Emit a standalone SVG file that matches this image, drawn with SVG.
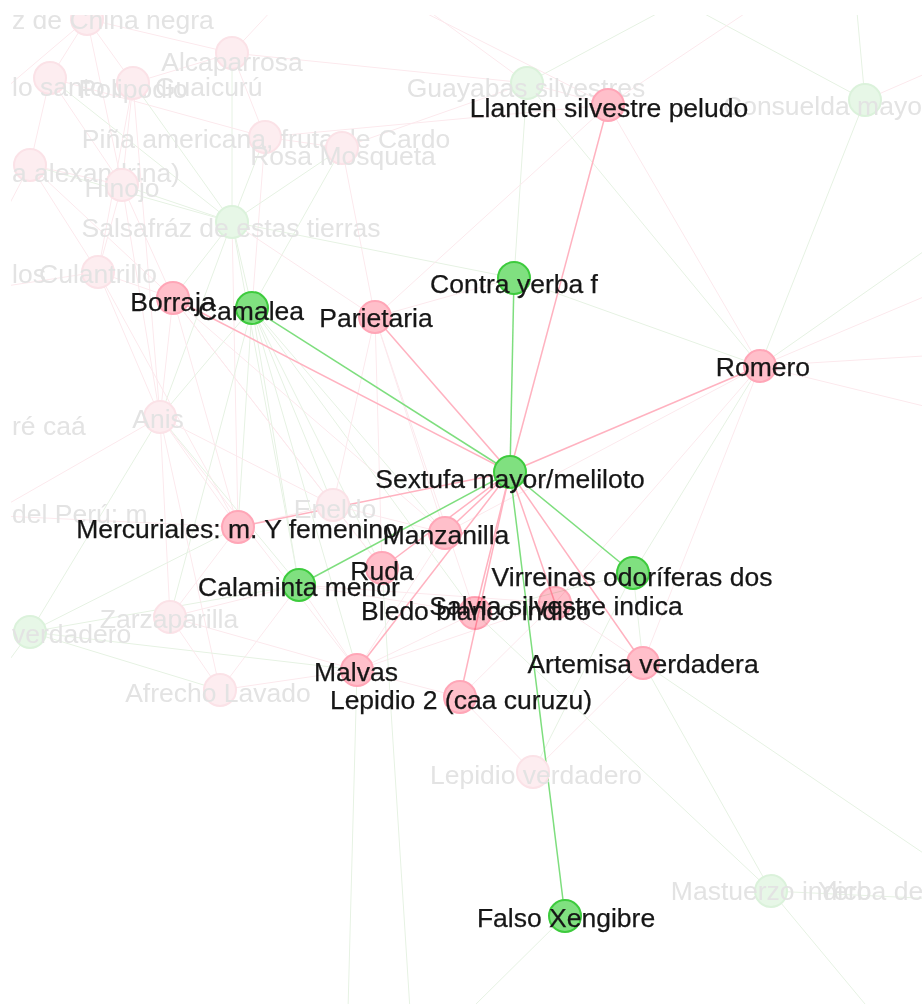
<svg xmlns="http://www.w3.org/2000/svg" width="922" height="1004" viewBox="0 0 922 1004">
  <defs>
    <clipPath id="view"><rect x="11" y="15" width="911" height="989"/></clipPath>
    <style>
      text { font-family: "Liberation Sans", Arial, Helvetica, sans-serif; font-size: 26.5px; text-anchor: middle; fill: #161616; stroke: #161616; stroke-width: 0.25; }
      text.dim { fill: #e3e3e3; stroke: none; }
      text.start { text-anchor: start; }
      circle { stroke-width: 2; }
      .hp { fill: #ffbfca; stroke: #ffa6b7; }
      .hg { fill: #80e080; stroke: #3dcb3d; }
      .mix { mix-blend-mode: multiply; }
      .dp { fill: #fdedf0; stroke: #fbe2e7; }
      .dg { fill: #e7f7e7; stroke: #dbf2db; }
      line { fill: none; }
      .ep { stroke: #ffb2c0; stroke-width: 1.5; }
      .eg { stroke: #7ede7e; stroke-width: 1.5; }
      .fp { stroke: #fce9ed; stroke-width: 1; }
      .fg { stroke: #e6f2e3; stroke-width: 1; }
    </style>
  </defs>
  <rect width="922" height="1004" fill="#ffffff"/>
  <g clip-path="url(#view)">
    <!-- connectors -->
    <g id="edges">
      <!-- background links -->
      <g id="edges-dim">
        <line class="fp" x1="87" y1="19" x2="133" y2="83"/>
        <line class="fp" x1="87" y1="19" x2="50" y2="78"/>
        <line class="fp" x1="87" y1="19" x2="122" y2="185"/>
        <line class="fp" x1="87" y1="19" x2="232" y2="53"/>
        <line class="fp" x1="87" y1="19" x2="210" y2="-20"/>
        <line class="fp" x1="87" y1="19" x2="-20" y2="110"/>
        <line class="fp" x1="232" y1="53" x2="265" y2="137"/>
        <line class="fp" x1="232" y1="53" x2="133" y2="83"/>
        <line class="fp" x1="232" y1="53" x2="527" y2="83"/>
        <line class="fp" x1="232" y1="53" x2="300" y2="-20"/>
        <line class="fg" x1="232" y1="53" x2="232" y2="222"/>
        <line class="fg" x1="50" y1="78" x2="232" y2="222"/>
        <line class="fp" x1="50" y1="78" x2="122" y2="185"/>
        <line class="fp" x1="50" y1="78" x2="30" y2="165"/>
        <line class="fp" x1="50" y1="78" x2="265" y2="137"/>
        <line class="fg" x1="133" y1="83" x2="232" y2="222"/>
        <line class="fp" x1="133" y1="83" x2="122" y2="185"/>
        <line class="fp" x1="133" y1="83" x2="98" y2="272"/>
        <line class="fp" x1="133" y1="83" x2="160" y2="417"/>
        <line class="fg" x1="265" y1="137" x2="232" y2="222"/>
        <line class="fp" x1="265" y1="137" x2="342" y2="148"/>
        <line class="fp" x1="265" y1="137" x2="252" y2="308"/>
        <line class="fp" x1="265" y1="137" x2="608" y2="105"/>
        <line class="fg" x1="342" y1="148" x2="232" y2="222"/>
        <line class="fg" x1="342" y1="148" x2="252" y2="308"/>
        <line class="fp" x1="342" y1="148" x2="375" y2="317"/>
        <line class="fp" x1="342" y1="148" x2="527" y2="83"/>
        <line class="fp" x1="30" y1="165" x2="122" y2="185"/>
        <line class="fp" x1="30" y1="165" x2="98" y2="272"/>
        <line class="fg" x1="30" y1="165" x2="232" y2="222"/>
        <line class="fp" x1="30" y1="165" x2="173" y2="298"/>
        <line class="fp" x1="30" y1="165" x2="-20" y2="260"/>
        <line class="fg" x1="122" y1="185" x2="232" y2="222"/>
        <line class="fp" x1="122" y1="185" x2="98" y2="272"/>
        <line class="fp" x1="122" y1="185" x2="173" y2="298"/>
        <line class="fp" x1="122" y1="185" x2="160" y2="417"/>
        <line class="fg" x1="232" y1="222" x2="252" y2="308"/>
        <line class="fg" x1="232" y1="222" x2="173" y2="298"/>
        <line class="fg" x1="232" y1="222" x2="514" y2="278"/>
        <line class="fp" x1="232" y1="222" x2="375" y2="317"/>
        <line class="fg" x1="232" y1="222" x2="160" y2="417"/>
        <line class="fp" x1="232" y1="222" x2="238" y2="527"/>
        <line class="fg" x1="232" y1="222" x2="299" y2="585"/>
        <line class="fp" x1="527" y1="83" x2="608" y2="105"/>
        <line class="fg" x1="527" y1="83" x2="514" y2="278"/>
        <line class="fg" x1="527" y1="83" x2="720" y2="-20"/>
        <line class="fp" x1="527" y1="83" x2="400" y2="-10"/>
        <line class="fg" x1="865" y1="100" x2="760" y2="366"/>
        <line class="fg" x1="865" y1="100" x2="855" y2="-10"/>
        <line class="fg" x1="865" y1="100" x2="660" y2="-10"/>
        <line class="fp" x1="865" y1="100" x2="980" y2="50"/>
        <line class="fp" x1="608" y1="105" x2="760" y2="366"/>
        <line class="fp" x1="608" y1="105" x2="380" y2="-10"/>
        <line class="fp" x1="608" y1="105" x2="375" y2="317"/>
        <line class="fp" x1="608" y1="105" x2="780" y2="-10"/>
        <line class="fp" x1="98" y1="272" x2="160" y2="417"/>
        <line class="fp" x1="98" y1="272" x2="173" y2="298"/>
        <line class="fp" x1="98" y1="272" x2="-20" y2="290"/>
        <line class="fp" x1="98" y1="272" x2="238" y2="527"/>
        <line class="fp" x1="173" y1="298" x2="160" y2="417"/>
        <line class="fp" x1="173" y1="298" x2="238" y2="527"/>
        <line class="fp" x1="173" y1="298" x2="445" y2="533"/>
        <line class="fp" x1="173" y1="298" x2="333" y2="505"/>
        <line class="fp" x1="173" y1="298" x2="382" y2="568"/>
        <line class="fg" x1="252" y1="308" x2="160" y2="417"/>
        <line class="fg" x1="252" y1="308" x2="238" y2="527"/>
        <line class="fg" x1="252" y1="308" x2="445" y2="533"/>
        <line class="fg" x1="252" y1="308" x2="299" y2="585"/>
        <line class="fg" x1="252" y1="308" x2="333" y2="505"/>
        <line class="fg" x1="252" y1="308" x2="382" y2="568"/>
        <line class="fg" x1="252" y1="308" x2="170" y2="617"/>
        <line class="fg" x1="252" y1="308" x2="475" y2="613"/>
        <line class="fg" x1="252" y1="308" x2="357" y2="670"/>
        <line class="fp" x1="375" y1="317" x2="445" y2="533"/>
        <line class="fp" x1="375" y1="317" x2="382" y2="568"/>
        <line class="fp" x1="375" y1="317" x2="333" y2="505"/>
        <line class="fp" x1="375" y1="317" x2="475" y2="613"/>
        <line class="fp" x1="514" y1="278" x2="375" y2="317"/>
        <line class="fg" x1="514" y1="278" x2="760" y2="366"/>
        <line class="fp" x1="160" y1="417" x2="170" y2="617"/>
        <line class="fp" x1="160" y1="417" x2="238" y2="527"/>
        <line class="fp" x1="160" y1="417" x2="333" y2="505"/>
        <line class="fg" x1="160" y1="417" x2="299" y2="585"/>
        <line class="fp" x1="160" y1="417" x2="357" y2="670"/>
        <line class="fp" x1="160" y1="417" x2="220" y2="690"/>
        <line class="fg" x1="160" y1="417" x2="30" y2="632"/>
        <line class="fp" x1="160" y1="417" x2="-20" y2="520"/>
        <line class="fp" x1="760" y1="366" x2="555" y2="603"/>
        <line class="fp" x1="760" y1="366" x2="643" y2="663"/>
        <line class="fg" x1="760" y1="366" x2="633" y2="573"/>
        <line class="fp" x1="760" y1="366" x2="445" y2="533"/>
        <line class="fp" x1="760" y1="366" x2="940" y2="290"/>
        <line class="fp" x1="760" y1="366" x2="940" y2="355"/>
        <line class="fp" x1="760" y1="366" x2="940" y2="410"/>
        <line class="fg" x1="760" y1="366" x2="940" y2="240"/>
        <line class="fg" x1="760" y1="366" x2="527" y2="83"/>
        <line class="fg" x1="633" y1="573" x2="643" y2="663"/>
        <line class="fg" x1="633" y1="573" x2="533" y2="772"/>
        <line class="fg" x1="633" y1="573" x2="475" y2="613"/>
        <line class="fg" x1="643" y1="663" x2="771" y2="891"/>
        <line class="fp" x1="643" y1="663" x2="533" y2="772"/>
        <line class="fg" x1="643" y1="663" x2="960" y2="878"/>
        <line class="fp" x1="643" y1="663" x2="555" y2="603"/>
        <line class="fp" x1="555" y1="603" x2="460" y2="697"/>
        <line class="fp" x1="555" y1="603" x2="357" y2="670"/>
        <line class="fp" x1="555" y1="603" x2="299" y2="585"/>
        <line class="fp" x1="475" y1="613" x2="357" y2="670"/>
        <line class="fp" x1="475" y1="613" x2="299" y2="585"/>
        <line class="fg" x1="475" y1="613" x2="771" y2="891"/>
        <line class="fp" x1="445" y1="533" x2="357" y2="670"/>
        <line class="fp" x1="357" y1="670" x2="220" y2="690"/>
        <line class="fp" x1="357" y1="670" x2="170" y2="617"/>
        <line class="fg" x1="357" y1="670" x2="348" y2="1010"/>
        <line class="fp" x1="357" y1="670" x2="460" y2="697"/>
        <line class="fp" x1="357" y1="670" x2="299" y2="585"/>
        <line class="fp" x1="460" y1="697" x2="533" y2="772"/>
        <line class="fg" x1="382" y1="568" x2="410" y2="1010"/>
        <line class="fp" x1="238" y1="527" x2="333" y2="505"/>
        <line class="fp" x1="238" y1="527" x2="170" y2="617"/>
        <line class="fg" x1="238" y1="527" x2="30" y2="632"/>
        <line class="fp" x1="238" y1="527" x2="-20" y2="515"/>
        <line class="fg" x1="299" y1="585" x2="30" y2="632"/>
        <line class="fp" x1="299" y1="585" x2="170" y2="617"/>
        <line class="fp" x1="299" y1="585" x2="220" y2="690"/>
        <line class="fg" x1="30" y1="632" x2="220" y2="690"/>
        <line class="fg" x1="30" y1="632" x2="357" y2="670"/>
        <line class="fg" x1="30" y1="632" x2="-20" y2="700"/>
        <line class="fp" x1="170" y1="617" x2="220" y2="690"/>
        <line class="fp" x1="333" y1="505" x2="445" y2="533"/>
        <line class="fp" x1="333" y1="505" x2="382" y2="568"/>
        <line class="fg" x1="565" y1="916" x2="470" y2="1010"/>
        <line class="fg" x1="771" y1="891" x2="870" y2="1010"/>
        <line class="fg" x1="771" y1="891" x2="960" y2="900"/>
      </g>
      <!-- links of Sextufa mayor/meliloto -->
      <g id="edges-focus">
        <line class="ep" x1="510" y1="472" x2="608" y2="105"/>
        <line class="eg" x1="510" y1="472" x2="514" y2="278"/>
        <line class="ep" x1="510" y1="472" x2="760" y2="366"/>
        <line class="ep" x1="510" y1="472" x2="173" y2="298"/>
        <line class="eg" x1="510" y1="472" x2="252" y2="308"/>
        <line class="ep" x1="510" y1="472" x2="375" y2="317"/>
        <line class="ep" x1="510" y1="472" x2="238" y2="527"/>
        <line class="ep" x1="510" y1="472" x2="445" y2="533"/>
        <line class="ep" x1="510" y1="472" x2="382" y2="568"/>
        <line class="eg" x1="510" y1="472" x2="299" y2="585"/>
        <line class="ep" x1="510" y1="472" x2="555" y2="603"/>
        <line class="eg" x1="510" y1="472" x2="633" y2="573"/>
        <line class="ep" x1="510" y1="472" x2="475" y2="613"/>
        <line class="ep" x1="510" y1="472" x2="643" y2="663"/>
        <line class="ep" x1="510" y1="472" x2="357" y2="670"/>
        <line class="ep" x1="510" y1="472" x2="460" y2="697"/>
        <line class="eg" x1="510" y1="472" x2="565" y2="916"/>
      </g>
    </g>

    <!-- faded nodes -->
    <g id="n-raiz-china"><circle class="dp" cx="87" cy="19" r="16"/><text class="dim start" x="12" y="29">z de China negra</text></g>
    <g id="n-alcaparrosa"><circle class="dp" cx="232" cy="53" r="16"/><text class="dim" x="232" y="71">Alcaparrosa</text></g>
    <g id="n-palo-santo"><circle class="dp" cx="50" cy="78" r="16"/><text class="dim start" x="12" y="96">lo santo del Guaicurú</text></g>
    <g id="n-polipodio"><circle class="dp" cx="133" cy="83" r="16"/><text class="dim" x="133" y="98">Polipodio</text></g>
    <g id="n-pina"><circle class="dp" cx="265" cy="137" r="16"/><text class="dim" x="266" y="148">Piña americana, fruta de Cardo</text></g>
    <g id="n-rosa"><circle class="dp" cx="342" cy="148" r="16"/><text class="dim" x="343" y="165">Rosa Mosqueta</text></g>
    <g id="n-alexandrina"><circle class="dp" cx="30" cy="165" r="16"/><text class="dim start" x="12" y="182">a alexandrina)</text></g>
    <g id="n-hinojo"><circle class="dp" cx="122" cy="185" r="16"/><text class="dim" x="122" y="197">Hinojo</text></g>
    <g id="n-salsafraz"><circle class="dg" cx="232" cy="222" r="16"/><text class="dim" x="231" y="237">Salsafráz de estas tierras</text></g>
    <g id="n-guayabas"><circle class="dg" cx="527" cy="83" r="16"/><text class="dim" x="526" y="97">Guayabas silvestres</text></g>
    <g id="n-consuelda"><circle class="dg" cx="865" cy="100" r="16"/><text class="dim start" x="723" y="115">Consuelda mayo</text></g>
    <g id="n-los"><text class="dim start" x="12" y="283">los</text></g>
    <g id="n-culantrillo"><circle class="dp" cx="98" cy="272" r="16"/><text class="dim" x="98" y="283">Culantrillo</text></g>
    <g id="n-caa"><text class="dim start" x="12" y="435">ré caá</text></g>
    <g id="n-anis"><circle class="dp" cx="160" cy="417" r="16"/><text class="dim" x="158" y="428">Anis</text></g>
    <g id="n-peru"><text class="dim start" x="12" y="523">del Perú: m</text></g>
    <g id="n-eneldo"><circle class="dp" cx="333" cy="505" r="16"/><text class="dim" x="335" y="518">Eneldo</text></g>
    <g id="n-verdadero"><circle class="dg" cx="30" cy="632" r="16"/><text class="dim start" x="12" y="643">verdadero</text></g>
    <g id="n-zarzaparilla"><circle class="dp" cx="170" cy="617" r="16"/><text class="dim" x="169" y="628">Zarzaparilla</text></g>
    <g id="n-afrecho"><circle class="dp" cx="220" cy="690" r="16"/><text class="dim" x="218" y="702">Afrecho Lavado</text></g>
    <g id="n-lepidio-verdadero"><circle class="dp" cx="533" cy="772" r="16"/><text class="dim" x="536" y="784">Lepidio verdadero</text></g>
    <g id="n-mastuerzo"><circle class="dg" cx="771" cy="891" r="16"/><text class="dim" x="771" y="900">Mastuerzo indico</text></g>
    <g id="n-yerba"><text class="dim start" x="818" y="900">Yerba de</text></g>

    <!-- Sextufa mayor/meliloto and its neighbours -->
    <g id="n-llanten"><circle class="hp" cx="608" cy="105" r="16"/><text x="609" y="117">Llanten silvestre peludo</text></g>
    <g id="n-contra-yerba"><circle class="hg" cx="514" cy="278" r="16"/><text x="514" y="293">Contra yerba f</text></g>
    <g id="n-romero"><circle class="hp" cx="760" cy="366" r="16"/><text x="763" y="376">Romero</text></g>
    <g id="n-borraja"><circle class="hp" cx="173" cy="298" r="16"/><text x="173" y="311">Borraja</text></g>
    <g id="n-camalea"><circle class="hg" cx="252" cy="308" r="16"/><text x="251" y="320">Camalea</text></g>
    <g id="n-parietaria"><circle class="hp" cx="375" cy="317" r="16"/><text x="376" y="327">Parietaria</text></g>
    <g id="n-sextufa"><circle class="hg" cx="510" cy="472" r="16"/><text x="510" y="488">Sextufa mayor/meliloto</text></g>
    <g id="n-mercuriales"><circle class="hp" cx="238" cy="527" r="16"/><text x="237" y="538">Mercuriales: m. Y femenino</text></g>
    <g id="n-manzanilla"><circle class="hp" cx="445" cy="533" r="16"/><text x="446" y="544">Manzanilla</text></g>
    <g id="n-ruda"><circle class="hp" cx="382" cy="568" r="16"/><text x="382" y="580">Ruda</text></g>
    <g id="n-calaminta"><circle class="hg" cx="299" cy="585" r="16"/><text x="299" y="596">Calaminta menor</text></g>
    <g id="n-salvia"><circle class="hp mix" cx="555" cy="603" r="16"/><text x="556" y="615">Salvia silvestre indica</text></g>
    <g id="n-virreinas"><circle class="hg" cx="633" cy="573" r="16"/><text x="632" y="586">Virreinas odoríferas dos</text></g>
    <g id="n-bledo"><circle class="hp mix" cx="475" cy="613" r="16"/><text x="476" y="620">Bledo blanco indico</text></g>
    <g id="n-artemisa"><circle class="hp" cx="643" cy="663" r="16"/><text x="643" y="673">Artemisa verdadera</text></g>
    <g id="n-malvas"><circle class="hp" cx="357" cy="670" r="16"/><text x="356" y="681">Malvas</text></g>
    <g id="n-lepidio-2"><circle class="hp" cx="460" cy="697" r="16"/><text x="461" y="709">Lepidio 2 (caa curuzu)</text></g>
    <g id="n-falso-xengibre"><circle class="hg" cx="565" cy="916" r="16"/><text x="566" y="927">Falso Xengibre</text></g>
  </g>
</svg>
